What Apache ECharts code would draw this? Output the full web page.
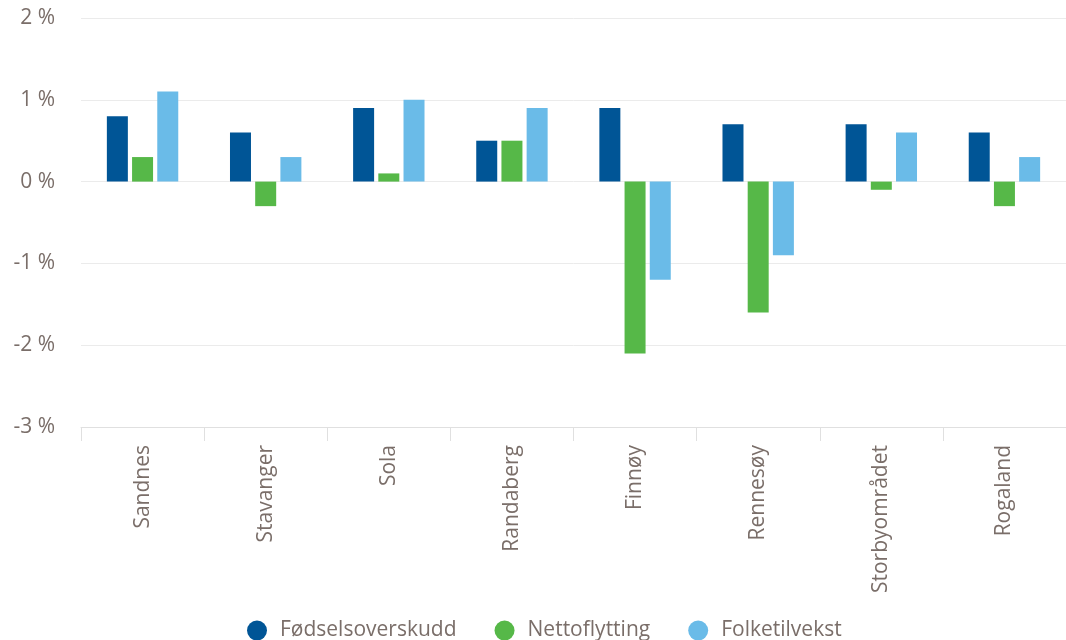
<!DOCTYPE html>
<html><head><meta charset="utf-8">
<script src="https://cdn.jsdelivr.net/npm/echarts@6/dist/echarts.min.js"></script>
<style>html,body{margin:0;padding:0;background:#fff}#c{width:1066px;height:640px}</style>
</head><body><div id="c"></div>
<script>
const categories = ['Sandnes','Stavanger','Sola','Randaberg','Finnøy','Rennesøy','Storbyområdet','Rogaland'];
const fodselsoverskudd = [0.8, 0.6, 0.9, 0.5, 0.9, 0.7, 0.7, 0.6];
const nettoflytting = [0.3, -0.3, 0.1, 0.5, -2.1, -1.6, -0.1, -0.3];
const folketilvekst = [1.1, 0.3, 1.0, 0.9, -1.2, -0.9, 0.6, 0.3];
const seriesNames = ['Fødselsoverskudd','Nettoflytting','Folketilvekst'];
const colors = ['#005596','#56b848','#6abbe8'];
const textColor = '#7a6e69';
const font = 'Open Sans';
const chart = echarts.init(document.getElementById('c'));
chart.setOption({
  animation:false,
  color: colors,
  textStyle:{fontFamily:font},
  grid:{left:81,right:-7,top:18,bottom:213,containLabel:false},
  legend:{top:615,left:242,padding:5,icon:'circle',itemWidth:20,itemHeight:20,itemGap:38,
    textStyle:{color:textColor,fontSize:21,fontFamily:font,padding:[0,0,0,8]},data:seriesNames},
  xAxis:{type:'category',data:categories,
    axisLine:{onZero:false,lineStyle:{color:'#e0e0e0'}},
    axisTick:{show:true,length:14,lineStyle:{color:'#e0e0e0'}},
    axisLabel:{rotate:90,color:textColor,fontSize:21,margin:18,fontFamily:font}},
  yAxis:{type:'value',min:-3,max:2,interval:1,
    axisLabel:{formatter:v=>v+' %',color:textColor,fontSize:21,margin:26,fontFamily:font},
    splitLine:{lineStyle:{color:'#ebebeb',width:1}},
    axisLine:{show:false},axisTick:{show:false}},
  series:[
    {name:seriesNames[0],type:'bar',data:fodselsoverskudd,barWidth:21,barGap:'20%'},
    {name:seriesNames[1],type:'bar',data:nettoflytting,barWidth:21,barGap:'20%'},
    {name:seriesNames[2],type:'bar',data:folketilvekst,barWidth:21,barGap:'20%'}
  ]
});
</script></body></html>
